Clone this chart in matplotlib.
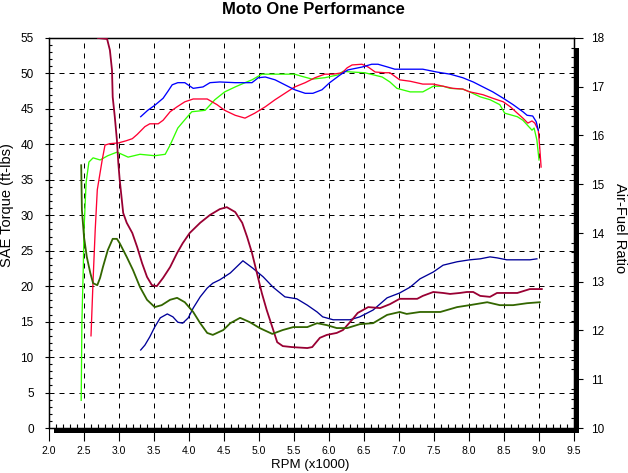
"""Dyno chart: SAE torque and air-fuel ratio vs RPM for three runs."""
import matplotlib
matplotlib.use("Agg")
import matplotlib.pyplot as plt
from matplotlib.patches import Rectangle
from matplotlib.ticker import MultipleLocator, FormatStrFormatter

plt.rcParams["font.family"] = ["Liberation Sans", "DejaVu Sans"]

# --- torque runs (left axis, ft-lbs) ---
blue_rpm = [3.31, 3.41, 3.51, 3.63, 3.70, 3.76, 3.84, 3.94, 4.06, 4.20, 4.30, 4.44,
            4.66, 4.90, 4.99, 5.09, 5.23, 5.37, 5.51, 5.66, 5.77, 5.90, 6.01, 6.16,
            6.27, 6.47, 6.61, 6.70, 6.84, 6.94, 7.34, 7.54, 7.73, 7.91, 8.06, 8.20,
            8.34, 8.49, 8.63, 8.77, 8.83, 8.91, 8.96, 8.99]
blue_tq = [43.9, 44.8, 45.5, 46.5, 47.5, 48.4, 48.7, 48.7, 47.9, 48.1, 48.7, 48.8,
           48.7, 48.7, 49.4, 49.5, 49.1, 48.4, 47.7, 47.2, 47.2, 47.7, 48.7, 49.8,
           50.5, 50.9, 51.3, 51.3, 50.9, 50.6, 50.6, 50.2, 49.9, 49.4, 48.8, 48.1,
           47.4, 46.5, 45.6, 44.6, 44.1, 44.0, 43.2, 42.0]

red_rpm = [2.60, 2.63, 2.66, 2.69, 2.76, 2.80, 2.87, 2.99, 3.10, 3.19, 3.26, 3.37,
           3.44, 3.56, 3.63, 3.73, 3.83, 3.94, 4.06, 4.26, 4.40, 4.51, 4.66, 4.80,
           4.94, 5.09, 5.23, 5.37, 5.51, 5.66, 5.80, 5.94, 6.06, 6.19, 6.26, 6.33,
           6.47, 6.56, 6.66, 6.80, 6.87, 7.01, 7.16, 7.34, 7.49, 7.63, 7.77, 7.91,
           8.01, 8.11, 8.20, 8.34, 8.49, 8.59, 8.69, 8.77, 8.84, 8.90, 8.94, 8.99,
           9.01, 9.03]
red_tq = [13.0, 20.9, 27.9, 33.6, 37.8, 39.9, 40.1, 40.2, 40.5, 40.8, 41.4, 42.5,
          42.9, 42.9, 43.4, 44.6, 45.3, 46.0, 46.4, 46.4, 45.6, 44.8, 44.1, 43.7,
          44.4, 45.3, 46.3, 47.2, 48.1, 48.7, 49.4, 49.9, 49.9, 50.1, 50.8, 51.2,
          51.3, 50.9, 50.2, 50.1, 50.1, 49.1, 48.9, 48.5, 48.5, 48.2, 47.9, 47.8,
          47.4, 47.2, 47.0, 46.5, 46.0, 45.3, 44.4, 43.7, 43.0, 43.3, 43.0, 42.0,
          39.6, 36.8]

green_rpm = [2.46, 2.47, 2.49, 2.50, 2.53, 2.57, 2.63, 2.73, 2.84, 2.97, 3.04, 3.13,
             3.30, 3.51, 3.66, 3.73, 3.84, 3.96, 4.04, 4.23, 4.37, 4.51, 4.66, 4.80,
             4.90, 5.04, 5.33, 5.51, 5.61, 5.76, 5.94, 6.13, 6.20, 6.33, 6.51, 6.76,
             6.87, 6.97, 7.16, 7.34, 7.49, 7.63, 7.73, 7.91, 8.01, 8.16, 8.30, 8.44,
             8.51, 8.69, 8.77, 8.90, 8.93, 8.97, 9.00]
green_tq = [3.9, 14.9, 22.7, 27.9, 34.6, 37.5, 38.1, 37.8, 38.4, 38.9, 38.6, 38.2,
            38.6, 38.4, 38.6, 39.9, 42.3, 43.7, 44.6, 44.8, 46.3, 47.4, 48.1, 48.7,
            49.1, 49.9, 49.9, 49.9, 49.6, 49.2, 49.4, 49.8, 50.3, 50.2, 50.1, 49.5,
            48.8, 47.9, 47.4, 47.4, 48.2, 48.2, 47.9, 47.8, 47.4, 46.7, 46.3, 45.6,
            44.4, 43.9, 43.4, 42.0, 42.3, 40.6, 37.8]

# --- air-fuel ratio runs (right axis) ---
navy_rpm = [3.31, 3.37, 3.44, 3.51, 3.59, 3.69, 3.77, 3.84, 3.91, 3.99, 4.06, 4.16,
            4.26, 4.34, 4.44, 4.59, 4.77, 4.91, 5.06, 5.20, 5.37, 5.54, 5.69, 5.83,
            5.91, 6.06, 6.30, 6.44, 6.63, 6.83, 7.01, 7.16, 7.30, 7.49, 7.63, 7.83,
            8.01, 8.16, 8.30, 8.40, 8.54, 8.69, 8.87, 8.97]
navy_afr = [11.60, 11.70, 11.87, 12.07, 12.26, 12.34, 12.28, 12.17, 12.15, 12.26,
            12.46, 12.69, 12.87, 12.97, 13.04, 13.18, 13.43, 13.28, 13.10, 12.89,
            12.69, 12.65, 12.52, 12.38, 12.28, 12.22, 12.22, 12.28, 12.42, 12.67,
            12.77, 12.89, 13.06, 13.20, 13.34, 13.41, 13.45, 13.47, 13.51, 13.49,
            13.45, 13.45, 13.45, 13.47]

maroon_rpm = [2.70, 2.83, 2.87, 2.90, 2.91, 2.94, 2.97, 2.99, 3.01, 3.06, 3.11, 3.19,
              3.26, 3.33, 3.40, 3.47, 3.54, 3.63, 3.73, 3.83, 3.91, 4.01, 4.16, 4.30,
              4.44, 4.54, 4.66, 4.76, 4.83, 4.90, 4.97, 5.04, 5.11, 5.19, 5.26, 5.34,
              5.47, 5.69, 5.76, 5.87, 5.97, 6.11, 6.20, 6.33, 6.41, 6.56, 6.73, 6.87,
              7.01, 7.11, 7.26, 7.34, 7.49, 7.63, 7.73, 7.87, 7.97, 8.06, 8.16, 8.30,
              8.40, 8.49, 8.69, 8.87, 8.97, 9.04]
maroon_afr = [18.0, 17.98, 17.75, 17.34, 16.79, 16.38, 15.91, 15.44, 15.09, 14.41,
              14.21, 14.00, 13.71, 13.38, 13.10, 12.93, 12.91, 13.08, 13.30, 13.59,
              13.79, 14.00, 14.21, 14.37, 14.49, 14.53, 14.43, 14.21, 13.92, 13.59,
              13.18, 12.77, 12.42, 12.07, 11.76, 11.68, 11.66, 11.64, 11.66, 11.85,
              11.91, 11.95, 12.01, 12.22, 12.36, 12.48, 12.46, 12.54, 12.65, 12.65,
              12.65, 12.71, 12.79, 12.77, 12.75, 12.77, 12.79, 12.79, 12.71, 12.69,
              12.77, 12.77, 12.77, 12.85, 12.85, 12.85]

olive_rpm = [2.46, 2.47, 2.50, 2.54, 2.59, 2.63, 2.69, 2.73, 2.77, 2.84, 2.91, 2.97,
             3.01, 3.11, 3.20, 3.30, 3.40, 3.51, 3.61, 3.73, 3.83, 3.94, 4.06, 4.16,
             4.26, 4.34, 4.49, 4.59, 4.73, 4.87, 5.01, 5.19, 5.34, 5.49, 5.69, 5.83,
             5.97, 6.11, 6.26, 6.44, 6.63, 6.83, 7.01, 7.11, 7.30, 7.59, 7.83, 8.01,
             8.26, 8.44, 8.63, 8.83, 9.01]
olive_afr = [15.39, 14.47, 13.92, 13.51, 13.18, 12.97, 12.93, 13.08, 13.30, 13.65,
             13.88, 13.88, 13.79, 13.51, 13.24, 12.89, 12.63, 12.48, 12.52, 12.63,
             12.67, 12.58, 12.38, 12.15, 11.95, 11.91, 12.01, 12.15, 12.26, 12.17,
             12.05, 11.93, 12.01, 12.07, 12.07, 12.15, 12.11, 12.05, 12.05, 12.13,
             12.15, 12.32, 12.38, 12.34, 12.38, 12.38, 12.48, 12.52, 12.58, 12.52,
             12.52, 12.56, 12.58]

W, H = 628, 473
fig = plt.figure(figsize=(W / 100, H / 100), dpi=100)

# plot box in pixels: x 49..574, y 38..428 (from top)
x0, x1, y0, y1 = 49, 574, 38, 428
ax = fig.add_axes([x0 / W, (H - y1) / H, (x1 - x0) / W, (y1 - y0) / H])

# black drop shadow behind the plot box
shadow = Rectangle(((x0 + 5) / W, (H - y1 - 5) / H), (x1 - x0) / W, (y1 - y0 - 5) / H,
                   transform=fig.transFigure, facecolor="black", edgecolor="none",
                   zorder=-1)
fig.patches.append(shadow)

ax.set_facecolor("white")
for s in ax.spines.values():
    s.set_linewidth(1.0)

ax.plot(green_rpm, green_tq, color="#33ff00", lw=0.95, zorder=3)
ax.plot(red_rpm, red_tq, color="#ff0033", lw=0.95, zorder=3)
ax.plot(blue_rpm, blue_tq, color="#0000ff", lw=0.95, zorder=3)

ax.set_xlim(2.0, 9.5)
ax.set_ylim(0, 55)
ax.xaxis.set_major_locator(MultipleLocator(0.5))
ax.xaxis.set_minor_locator(MultipleLocator(0.1))
ax.xaxis.set_major_formatter(FormatStrFormatter("%.1f"))
ax.yaxis.set_major_locator(MultipleLocator(5))
ax.yaxis.set_minor_locator(MultipleLocator(1))
ax.grid(True, which="major", color="black", lw=0.72, linestyle=(0, (5, 5)))

ax.tick_params(axis="x", which="major", direction="out", length=9, width=0.8,
               labelsize=7.5, pad=4)
ax.tick_params(axis="x", which="minor", direction="in", length=3, width=0.8)
ax.tick_params(axis="y", which="major", direction="out", length=3, width=0.8,
               labelsize=8.5, pad=8)
ax.tick_params(axis="y", which="minor", direction="in", length=2, width=0.8)

ax2 = ax.twinx()
ax2.plot(navy_rpm, navy_afr, color="#000099", lw=0.95, zorder=3)
ax2.plot(maroon_rpm, maroon_afr, color="#990033", lw=1.3, zorder=3)
ax2.plot(olive_rpm, olive_afr, color="#336600", lw=1.3, zorder=3)
ax2.set_ylim(10, 18)
ax2.yaxis.set_major_locator(MultipleLocator(1))
ax2.yaxis.set_minor_locator(MultipleLocator(0.2))
ax2.tick_params(axis="y", which="major", direction="out", length=6.5, width=0.8,
                labelsize=8.5, pad=6)
ax2.tick_params(axis="y", which="minor", direction="in", length=2, width=0.8)

# axis titles and chart title placed in figure pixels
fig.text(313 / W, 1 - 9 / H, "Moto One Performance", ha="center", va="center",
         fontsize=12, fontweight="bold")
fig.text(310 / W, 1 - 465 / H, "RPM (x1000)", ha="center", va="center", fontsize=9.5)
fig.text(7 / W, 1 - 205 / H, "SAE Torque (ft-lbs)", ha="center", va="center",
         rotation=90, fontsize=10.5)
fig.text(620 / W, 1 - 228 / H, "Air-Fuel Ratio", ha="center", va="center",
         rotation=-90, fontsize=10.5)

fig.savefig("out.png", dpi=100)
